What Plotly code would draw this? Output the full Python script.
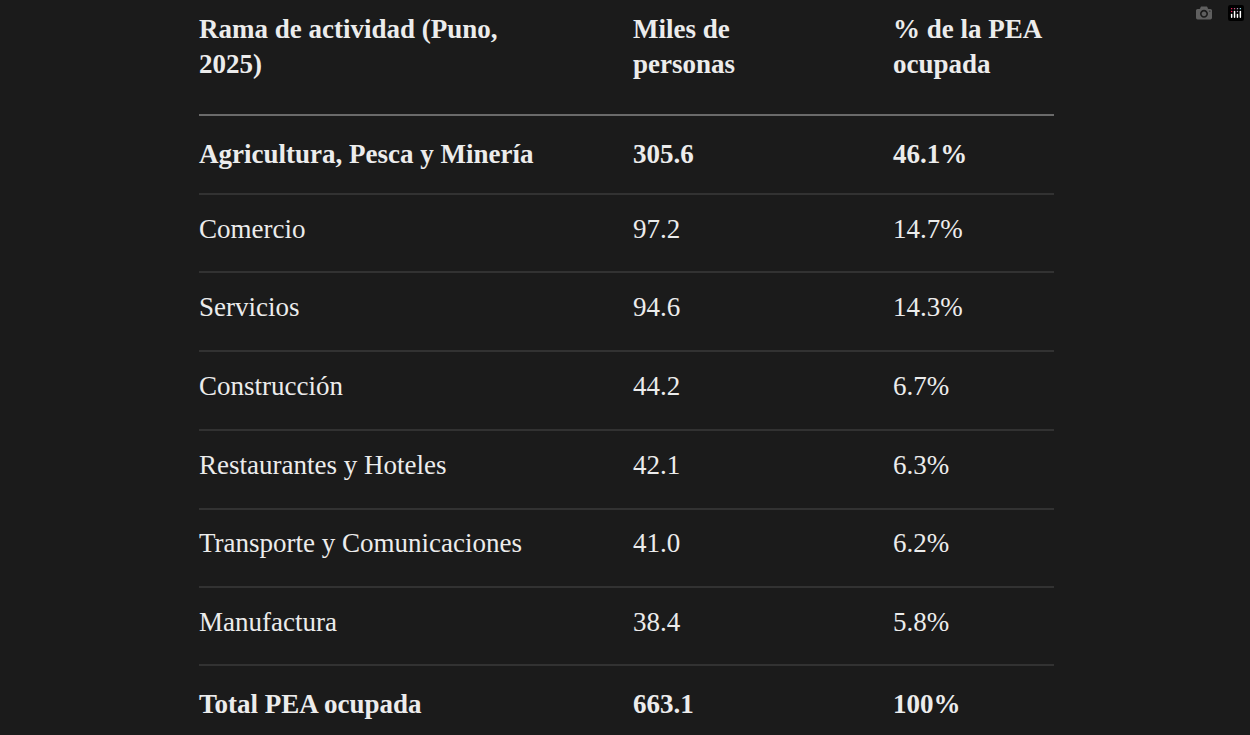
import plotly.graph_objects as go

headers = ["Rama de actividad (Puno,<br>2025)", "Miles de<br>personas", "% de la PEA<br>ocupada"]
ramas = ["Agricultura, Pesca y Minería", "Comercio", "Servicios", "Construcción",
         "Restaurantes y Hoteles", "Transporte y Comunicaciones", "Manufactura", "Total PEA ocupada"]
miles = ["305.6", "97.2", "94.6", "44.2", "42.1", "41.0", "38.4", "663.1"]
pct = ["46.1%", "14.7%", "14.3%", "6.7%", "6.3%", "6.2%", "5.8%", "100%"]
bold_rows = [0, 7]

def b(vals):
    return [f"<b>{v}</b>" if i in bold_rows else v for i, v in enumerate(vals)]

BG = "#1b1b1b"
W, H = 1250, 735
x0, x1 = 199, 1054
FONT = dict(family="Liberation Serif", size=27, color="#ececec")
fig = go.Figure(go.Table(
    domain=dict(x=[191 / W, 1], y=[0, 1 - 6 / H]),
    columnwidth=[434, 260, 365],
    header=dict(values=[f"<b>{h}</b>" for h in headers], height=125,
                fill_color=BG, line_color=BG, align="left", font=FONT),
    cells=dict(values=[b(ramas), b(miles), b(pct)], height=78.6,
               fill_color=BG, line_color=BG, align="left", font=FONT),
))
lines_y = [115, 194, 272, 351, 430, 509, 587, 665]
for i, y in enumerate(lines_y):
    fig.add_shape(type="line", xref="paper", yref="paper", x0=x0 / W, x1=x1 / W,
                  y0=1 - y / H, y1=1 - y / H,
                  line=dict(color="#bbbbbb" if i == 0 else "#4a4a4a", width=1))
fig.update_layout(width=W, height=H, paper_bgcolor=BG, plot_bgcolor=BG,
                  margin=dict(l=0, r=0, t=0, b=0))
fig.write_html("out.html", post_script="document.body.style.margin='0';document.body.style.background='#1b1b1b';document.body.style.overflow='hidden';")
